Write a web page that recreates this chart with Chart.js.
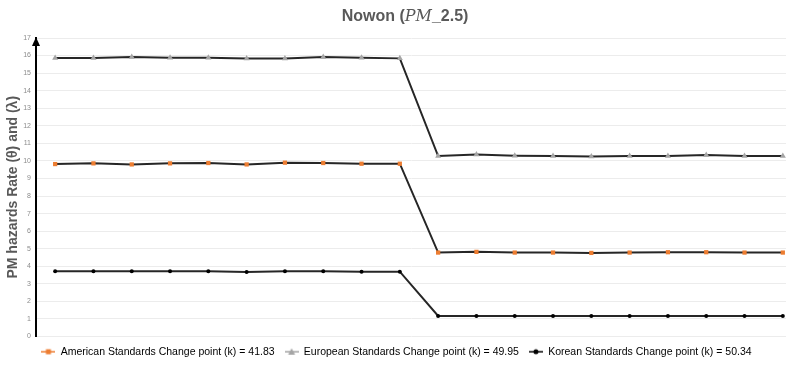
<!DOCTYPE html>
<html>
<head>
<meta charset="utf-8">
<script src="https://cdn.jsdelivr.net/npm/chart.js@4"></script>
<style>
html,body{margin:0;padding:0;background:#fff;}
#wrap{width:790px;height:367px;}
</style>
</head>
<body>
<div id="wrap"><canvas id="grafico" width="790" height="367"></canvas></div>
<script>
//datos: 20 periodos, cambio despues del punto 10
const periodos=[1,2,3,4,5,6,7,8,9,10,11,12,13,14,15,16,17,18,19,20];
const americana=[9.82,9.86,9.80,9.86,9.88,9.80,9.90,9.88,9.84,9.84,4.78,4.82,4.78,4.78,4.76,4.78,4.80,4.80,4.78,4.78];
const europea=[15.86,15.86,15.92,15.87,15.87,15.83,15.83,15.92,15.87,15.84,10.28,10.36,10.30,10.28,10.25,10.28,10.28,10.33,10.28,10.28];
const coreana=[3.72,3.72,3.72,3.72,3.72,3.68,3.72,3.72,3.69,3.69,1.17,1.17,1.17,1.17,1.17,1.17,1.17,1.17,1.17,1.17];
const nombres=['American Standards Change point (k) = 41.83','European Standards Change point (k) = 49.95','Korean Standards Change point (k) = 50.34'];
const ticksY=[0,1,2,3,4,5,6,7,8,9,10,11,12,13,14,15,16,17];

const colores=['#ED7D31','#A5A5A5','#000000'];
const estilos=['rect','triangle','circle'];
const radios=[3,3.5,2];

function puntos(valores)
{
    return valores.map((v,i)=>({x:periodos[i],y:v}));
}

//icono de leyenda: linea corta con el marcador al centro
function iconoLeyenda(color,estilo)
{
    const c=document.createElement('canvas');
    c.width=14;c.height=8;
    const ctx=c.getContext('2d');
    ctx.strokeStyle=color;
    ctx.lineWidth=1.5;
    ctx.beginPath();ctx.moveTo(0,4);ctx.lineTo(14,4);ctx.stroke();
    ctx.fillStyle=color;
    if(estilo==='rect')ctx.fillRect(4.5,1.5,5,5);
    else if(estilo==='triangle'){ctx.beginPath();ctx.moveTo(7,0.5);ctx.lineTo(10.5,7);ctx.lineTo(3.5,7);ctx.closePath();ctx.fill();}
    else{ctx.beginPath();ctx.arc(7,4,2.5,0,Math.PI*2);ctx.fill();}
    return c;
}

//titulo con PM en cursiva
const tituloPlugin={
    id:'tituloNowon',
    afterDraw(chart)
    {
        const ctx=chart.ctx;
        const partes=[
            {t:'Nowon (',f:'bold 16px "Liberation Sans", sans-serif'},
            {t:'PM',f:'italic 16px "DejaVu Serif", serif'},
            {t:'_2.5)',f:'bold 16px "Liberation Sans", sans-serif'}
        ];
        ctx.save();
        let total=0;
        partes.forEach(p=>{ctx.font=p.f;p.w=ctx.measureText(p.t).width;total+=p.w;});
        let x=405-total/2;
        ctx.fillStyle='#595959';
        ctx.textBaseline='middle';
        partes.forEach(p=>{ctx.font=p.f;ctx.fillText(p.t,x,17);x+=p.w;});
        ctx.restore();
    }
};

//flecha en el extremo superior del eje y
const flechaPlugin={
    id:'flechaY',
    afterDraw(chart)
    {
        const ctx=chart.ctx;
        const x=chart.scales.y.right;
        const top=chart.chartArea.top;
        ctx.save();
        ctx.fillStyle='#000';
        ctx.beginPath();
        ctx.moveTo(x,top-1);
        ctx.lineTo(x+4,top+8);
        ctx.lineTo(x-4,top+8);
        ctx.closePath();
        ctx.fill();
        ctx.restore();
    }
};

const datasets=[americana,europea,coreana].map((serie,i)=>({
    label:nombres[i],
    data:puntos(serie),
    borderColor:'#262626',
    borderWidth:2,
    pointStyle:estilos[i],
    pointRadius:radios[i],
    pointBackgroundColor:colores[i],
    pointBorderColor:colores[i],
    pointBorderWidth:0,
    clip:false,
    tension:0
}));

new Chart(document.getElementById('grafico'),{
    type:'line',
    data:{datasets:datasets},
    plugins:[tituloPlugin,flechaPlugin],
    options:{
        responsive:false,
        animation:false,
        layout:{padding:{top:38,right:2,left:5,bottom:0}},
        scales:{
            x:{
                type:'linear',
                display:false,
                min:0.5,
                max:20.083
            },
            y:{
                min:0,
                max:17,
                afterFit:s=>{s.width=31;},
                afterBuildTicks:s=>{s.ticks=ticksY.map(v=>({value:v}));},
                border:{color:'#000',width:2},
                grid:{color:'#ececec',lineWidth:1,drawTicks:false},
                ticks:{
                    color:'#8c8c8c',
                    padding:5,
                    font:{size:7,family:'"Liberation Sans", sans-serif'}
                },
                title:{
                    display:true,
                    text:'PM hazards Rate (θ) and (λ)',
                    color:'#595959',
                    padding:{top:0,bottom:0},
                    font:{size:14,weight:'bold',family:'"Liberation Sans", sans-serif'}
                }
            }
        },
        plugins:{
            title:{display:false},
            tooltip:{enabled:false},
            legend:{
                position:'bottom',
                labels:{
                    usePointStyle:true,
                    pointStyleWidth:14,
                    color:'#404040',
                    padding:10,
                    font:{size:10.5,family:'"Liberation Sans", sans-serif'},
                    generateLabels:function(chart)
                    {
                        return chart.data.datasets.map((d,i)=>({
                            text:d.label,
                            pointStyle:iconoLeyenda(colores[i],estilos[i]),
                            fillStyle:colores[i],
                            strokeStyle:colores[i],
                            lineWidth:0,
                            hidden:false,
                            datasetIndex:i
                        }));
                    }
                }
            }
        }
    }
});
</script>
</body>
</html>
